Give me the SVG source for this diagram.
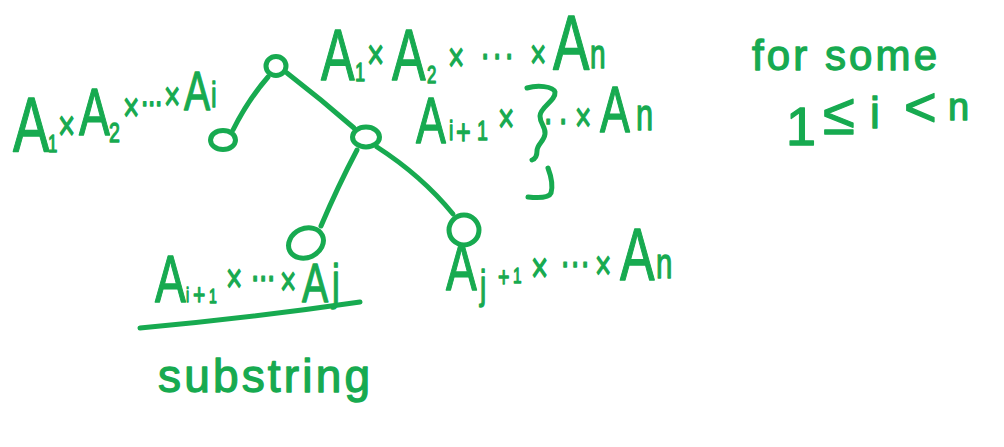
<svg xmlns="http://www.w3.org/2000/svg" width="1004" height="447" viewBox="0 0 1004 447">
<style>
.ink{fill:#17aa50;stroke:#17aa50;stroke-width:1.3;stroke-linejoin:round;font-family:"Liberation Sans",Arial,sans-serif}
.line{fill:none;stroke:#17aa50;stroke-width:5;stroke-linecap:round;stroke-linejoin:round}
.node{fill:#ffffff;stroke:#17aa50;stroke-width:5}
</style>
<rect width="1004" height="447" fill="#ffffff"/>
<g id="connectors">
<path class="line" d="M268,77 Q248,100 233,130"/>
<path class="line" d="M287,73 Q322,100 354,128"/>
<path class="line" d="M357,150 Q338,186 321,226"/>
<path class="line" d="M377,147 Q422,176 453,214"/>
</g>
<g id="node-root">
<ellipse class="node" cx="276" cy="66" rx="10" ry="9.5"/>
<text class="ink" transform="scale(0.7,1)"><tspan x="458.6" y="80" font-size="72">A</tspan><tspan x="507" y="81" font-size="26">1</tspan><tspan x="524.3" y="69" font-size="42">×</tspan><tspan x="560" y="80" font-size="72">A</tspan><tspan x="610" y="83" font-size="24">2</tspan><tspan x="640" y="71" font-size="40">×</tspan><tspan x="685.7 702.9 720" y="69.5" font-size="44">···</tspan><tspan x="757.1" y="68" font-size="40">×</tspan><tspan x="790" y="70" font-size="78">A</tspan><tspan x="842.9" y="68" font-size="40">n</tspan></text>
</g>
<g id="node-left">
<ellipse class="node" cx="223" cy="140" rx="12.5" ry="9.5"/>
<text class="ink" transform="scale(0.7,1)"><tspan x="18.6" y="152" font-size="78">A</tspan><tspan x="68.6" y="152" font-size="24">1</tspan><tspan x="82.9" y="140" font-size="42">×</tspan><tspan x="112.9" y="135" font-size="66">A</tspan><tspan x="155.7" y="142" font-size="28">2</tspan><tspan x="175.7" y="121" font-size="40">×</tspan><tspan x="200 210 220" y="115" font-size="40">···</tspan><tspan x="234.3" y="110" font-size="40">×</tspan><tspan x="262.9" y="110" font-size="56">A</tspan><tspan x="301.4" y="107" font-size="36">i</tspan></text>
</g>
<g id="node-mid">
<ellipse class="node" cx="366" cy="137" rx="13.5" ry="10"/>
<text class="ink" transform="scale(0.7,1)"><tspan x="594.3" y="143" font-size="64">A</tspan><tspan x="641.4" y="140" font-size="28">i</tspan><tspan x="651.4" y="144" font-size="36">+</tspan><tspan x="681.4" y="140" font-size="28">1</tspan><tspan x="711.4" y="132" font-size="40">×</tspan><tspan x="775.7 797.1" y="134.5" font-size="44">··</tspan><tspan x="821.4" y="131" font-size="40">×</tspan><tspan x="857.1" y="132" font-size="64">A</tspan><tspan x="908.6" y="130" font-size="44">n</tspan></text>
<path class="line" d="M527,88 C537,85 553,86 555,92 C556,101 540,107 540,116 C540,124 546,127 545,134 C544,142 537,144 537,151 C537,156 535,159 532,160"/>
<path class="line" d="M548,168 C551,176 553,186 551,193 C549,198 538,198 528,197"/>
</g>
<g id="node-lb">
<ellipse class="node" cx="306" cy="243" rx="18" ry="14.5" transform="rotate(-25 306 243)"/>
<text class="ink" transform="scale(0.7,1)"><tspan x="221.4" y="302" font-size="66">A</tspan><tspan x="265.7" y="302" font-size="20">i</tspan><tspan x="275.7" y="305.5" font-size="30">+</tspan><tspan x="298.6" y="303" font-size="20">1</tspan><tspan x="322.9" y="292" font-size="40">×</tspan><tspan x="357.1 368.6 380" y="291.5" font-size="44">···</tspan><tspan x="400" y="295" font-size="40">×</tspan><tspan x="431.4" y="302" font-size="56">A</tspan><tspan x="474.3" y="299" font-size="50">j</tspan></text>
<path class="line" d="M140,328 Q250,318 360,302"/>
<text class="ink" x="158" y="392" font-size="46" textLength="212" lengthAdjust="spacing">substring</text>
</g>
<g id="node-rb">
<ellipse class="node" cx="464" cy="230" rx="15" ry="15"/>
<text class="ink" transform="scale(0.7,1)"><tspan x="637.1" y="290" font-size="66">A</tspan><tspan x="685.7" y="299" font-size="40">j</tspan><tspan x="711.4" y="286" font-size="28">+</tspan><tspan x="732.9" y="283.5" font-size="22">1</tspan><tspan x="758.6" y="282" font-size="42">×</tspan><tspan x="800 814.3 828.6" y="277.5" font-size="44">···</tspan><tspan x="850" y="279" font-size="40">×</tspan><tspan x="885.7" y="280" font-size="74">A</tspan><tspan x="937.1" y="278" font-size="42">n</tspan></text>
</g>
<g id="note">
<text class="ink" x="752" y="70" font-size="42" textLength="185" lengthAdjust="spacing">for some</text>
<text class="ink" font-size="44"><tspan x="786" y="145" font-size="54">1</tspan><tspan x="823" y="134" font-size="58">≤</tspan><tspan x="870" y="128">i</tspan><tspan x="904" y="126" font-size="56">&lt;</tspan><tspan x="948" y="120" font-size="38">n</tspan></text>
</g>
</svg>
